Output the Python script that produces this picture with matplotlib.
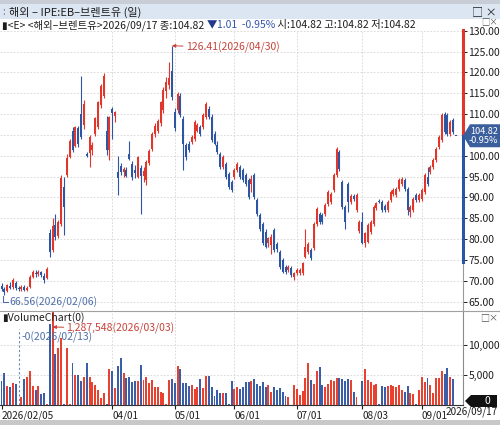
import numpy as np
import pandas as pd
import matplotlib
matplotlib.use("Agg")
import matplotlib.pyplot as plt
from matplotlib.patches import Polygon, Rectangle
from matplotlib.transforms import IdentityTransform

plt.rcParams['font.family'] = ['Noto Sans CJK KR', 'DejaVu Sans']

TITLE = "해외 – IPE:EB–브렌트유 (일)"
dates = pd.bdate_range("2026-02-05", "2026-09-17")

opens = [68.8, 68.0, 67.5, 68.8, 68.4, 69.5, 68.3, 68.0, 68.5, 67.9,
         68.4, 71.0, 72.0, 71.6, 72.1, 71.2, 70.6, 81.5, 77.5, 83.5,
         80.8, 83.6, 92.6, 95.4, 99.8, 106.0, 102.4, 106.6, 110.0, 107.3,
         100.4, 100.6, 101.5, 105.3, 107.0, 112.1, 114.4, 106.0, 101.3, 111.2,
         109.5, 96.0, 97.6, 96.2, 96.6, 100.5, 98.0, 96.6, 95.0, 97.0,
         95.2, 94.2, 98.2, 101.6, 105.2, 106.0, 107.8, 110.9, 115.5, 117.0,
         120.4, 110.5, 110.9, 114.4, 108.9, 102.5, 102.9, 103.3, 104.0, 106.0,
         106.9, 106.9, 109.3, 111.3, 109.3, 105.3, 102.5, 100.5, 97.3, 98.1,
         95.7, 93.7, 94.9, 96.6, 97.3, 96.5, 95.3, 94.1, 93.3, 95.3,
         89.3, 85.7, 83.7, 81.8, 79.0, 78.6, 82.1, 78.8, 77.0, 75.0,
         73.3, 72.6, 73.0, 71.0, 71.8, 71.9, 71.8, 75.8, 76.9, 77.4,
         77.8, 83.7, 86.1, 85.7, 86.1, 88.5, 88.9, 91.7, 95.3, 100.9,
         93.7, 87.7, 93.3, 88.9, 90.4, 86.9, 82.0, 84.1, 79.0, 79.4,
         81.8, 83.7, 87.6, 89.2, 88.9, 88.0, 86.9, 89.3, 90.9, 90.5,
         92.1, 93.3, 94.1, 92.1, 86.5, 86.9, 90.5, 89.3, 89.7, 91.3,
         95.0, 96.1, 97.3, 98.9, 102.1, 103.7, 110.1, 109.7, 105.3, 108.5,
         104.82]
highs = [69.5, 68.6, 69.2, 69.6, 70.6, 69.9, 68.8, 68.9, 68.9, 68.7,
         71.4, 72.5, 72.6, 72.5, 72.4, 71.8, 73.2, 82.5, 85.0, 86.0,
         84.6, 95.5, 95.0, 100.4, 104.0, 106.8, 107.2, 107.2, 119.2, 113.5,
         100.8, 105.0, 103.2, 109.4, 113.2, 117.2, 119.8, 109.5, 109.6, 111.8,
         110.8, 100.0, 98.2, 97.4, 97.2, 103.5, 98.8, 97.8, 99.9, 97.8,
         97.2, 98.9, 101.6, 105.6, 107.8, 108.8, 113.2, 116.5, 118.8, 122.4,
         126.41, 111.5, 115.2, 115.0, 109.5, 103.0, 103.5, 105.0, 108.6, 107.8,
         107.5, 110.2, 112.9, 112.0, 110.0, 106.0, 103.6, 101.0, 100.2, 98.6,
         96.2, 94.2, 97.0, 98.6, 97.8, 97.0, 95.8, 94.6, 95.3, 95.8,
         89.8, 86.2, 84.2, 82.4, 80.6, 81.2, 82.6, 79.3, 77.5, 75.5,
         73.8, 73.8, 73.5, 72.2, 73.0, 73.0, 74.6, 82.5, 79.4, 77.9,
         84.2, 87.8, 86.6, 86.2, 88.6, 91.8, 91.4, 95.8, 102.2, 101.4,
         94.2, 88.2, 93.8, 90.8, 90.9, 91.0, 84.6, 86.5, 81.8, 83.8,
         84.6, 88.2, 89.0, 89.6, 89.4, 88.4, 89.4, 91.8, 92.2, 92.6,
         94.6, 95.0, 94.6, 92.6, 88.2, 90.2, 91.0, 91.0, 92.2, 95.8,
         97.4, 97.8, 99.4, 102.2, 105.0, 110.2, 110.4, 110.2, 108.6, 109.0,
         104.82]
lows = [67.6, 66.56, 67.2, 68.0, 68.1, 67.9, 67.6, 67.5, 67.6, 67.5,
        68.2, 70.6, 71.0, 71.2, 70.9, 69.4, 70.4, 75.8, 77.0, 79.8,
        80.2, 83.2, 81.0, 95.0, 99.4, 100.8, 102.0, 102.2, 104.0, 106.5,
        99.6, 97.3, 100.2, 104.8, 106.5, 111.5, 113.8, 100.2, 99.0, 104.0,
        108.0, 90.5, 95.4, 95.0, 94.8, 99.0, 94.2, 94.6, 94.6, 86.1,
        93.8, 93.0, 97.8, 101.2, 104.6, 105.5, 107.2, 110.2, 113.9, 116.0,
        113.5, 106.0, 110.2, 109.2, 96.5, 99.0, 100.8, 102.8, 103.6, 105.6,
        104.8, 106.5, 108.8, 108.8, 103.2, 102.5, 100.4, 96.8, 96.8, 94.4,
        92.0, 91.2, 94.4, 96.0, 94.4, 93.8, 92.8, 89.6, 91.3, 89.6,
        85.6, 82.0, 78.6, 77.8, 78.2, 76.5, 76.9, 77.0, 72.9, 71.8,
        71.7, 72.1, 70.9, 70.2, 71.3, 71.4, 71.4, 75.4, 76.4, 74.9,
        77.3, 83.2, 83.6, 83.6, 85.6, 88.0, 88.4, 91.2, 94.8, 96.4,
        87.2, 82.5, 86.4, 88.4, 89.2, 86.4, 81.5, 78.8, 78.2, 79.0,
        81.3, 83.2, 87.0, 88.6, 86.4, 86.4, 86.4, 88.8, 90.4, 90.0,
        91.6, 92.8, 91.6, 85.9, 85.4, 86.4, 88.8, 88.8, 89.2, 90.8,
        92.8, 95.6, 96.8, 98.4, 101.6, 103.2, 105.2, 104.8, 104.8, 105.2,
        104.82]
closes = [68.0, 67.4, 68.9, 68.3, 70.2, 68.2, 68.0, 68.6, 67.9, 68.4,
          71.0, 72.1, 71.6, 72.2, 71.3, 70.2, 72.9, 77.0, 83.2, 80.6,
          84.0, 94.6, 87.8, 99.6, 103.6, 101.4, 106.8, 102.8, 104.6, 112.4,
          100.0, 104.4, 102.6, 109.0, 112.8, 116.8, 119.2, 101.3, 109.2, 110.2,
          110.4, 94.6, 96.2, 96.8, 95.2, 99.2, 94.9, 95.8, 99.6, 95.2,
          96.3, 98.5, 101.2, 105.2, 107.2, 108.4, 112.8, 115.8, 117.8, 118.6,
          114.0, 106.6, 114.8, 109.7, 102.9, 99.7, 101.3, 104.5, 108.0, 107.3,
          105.3, 109.7, 112.5, 109.3, 103.7, 102.9, 101.0, 97.3, 99.7, 94.9,
          92.5, 91.7, 96.5, 98.1, 94.9, 94.3, 93.3, 90.1, 94.5, 90.1,
          86.1, 82.5, 79.0, 78.2, 80.2, 80.6, 77.4, 77.6, 73.4, 72.2,
          72.2, 73.3, 71.4, 71.8, 72.6, 72.6, 74.2, 78.2, 78.9, 75.4,
          83.7, 87.3, 84.1, 84.1, 88.1, 91.3, 90.9, 95.3, 101.7, 96.9,
          87.7, 84.1, 88.9, 90.3, 89.7, 90.5, 84.1, 79.0, 81.4, 83.3,
          84.1, 87.7, 88.8, 89.0, 86.9, 86.9, 88.9, 91.3, 91.7, 92.1,
          94.1, 94.5, 92.1, 86.9, 87.7, 89.7, 89.3, 90.5, 91.7, 95.3,
          93.3, 97.3, 98.9, 101.7, 104.5, 109.7, 105.7, 105.3, 108.0, 105.83,
          104.82]
volumes = [4050, 5300, 3150, 3050, 3600, 3500, 0, 1400, 4350, 4600,
           5700, 3200, 2500, 3150, 1780, 2050, 150, 13500, 1287548, 8500,
           9450, 11100, 200, 9450, 150, 7050, 5000, 5000, 4050, 4700,
           6950, 4700, 3900, 3300, 2500, 1200, 2000, 150, 5950, 5700,
           2800, 6500, 7800, 5400, 4450, 4700, 3900, 4050, 4000, 6700,
           4200, 4700, 3600, 4200, 3050, 3050, 2200, 1950, 170, 4200,
           4300, 3700, 6500, 5950, 3600, 3700, 3200, 3350, 2600, 2950,
           4300, 2800, 4850, 4850, 2950, 1500, 2500, 2050, 2050, 2050,
           150, 4050, 2600, 2950, 2600, 3050, 3900, 3900, 4050, 4300,
           3500, 3200, 3900, 3050, 3350, 2200, 2950, 2500, 2800, 2200,
           1500, 1280, 0, 3350, 2600, 1650, 2350, 4550, 6950, 4150,
           3500, 5700, 6400, 3350, 2950, 3500, 4150, 4000, 4450, 4450,
           4300, 4050, 4300, 4150, 2200, 1400, 0, 4000, 5950, 4150,
           3900, 3350, 3450, 150, 3150, 3050, 3150, 3350, 3150, 2950,
           3350, 2500, 2200, 3150, 1950, 1780, 150, 2500, 4700, 3900,
           4450, 3350, 2050, 4450, 4450, 5700, 5150, 6100, 4600, 4300,
           0]

LAST = closes[-1]
CHANGE = "1.01"
PCT = "-0.95%"

RED = '#e2362b'
BLUE = '#2c56a4'
ANN_RED = '#c8423a'
ANN_BLUE = '#4d6fa9'
GRID = '#d3d3d3'
TXT = '#1e1e1e'

W, H = 500, 425
fig = plt.figure(figsize=(W / 100, H / 100), dpi=100)
fig.patch.set_facecolor('white')


def fx(px):
    return px / W


def fy(py):
    return 1 - py / H


ax = fig.add_axes([0, fy(310), fx(463), (310 - 30) / H])
axv = fig.add_axes([0, fy(405), fx(463), (405 - 312) / H])

o = np.array(opens)
hi = np.array(highs)
lo = np.array(lows)
c = np.array(closes)
v = np.array(volumes)
idx = np.arange(len(c))
up = c > o
cols = np.where(up, RED, BLUE)

# month ticks (first trading day of each month, March skipped like the source)
month_pos = [i for i in range(1, len(dates)) if dates[i].month != dates[i - 1].month][1:]
month_lbl = [dates[i].strftime('%m/%d') for i in month_pos]

XMIN, XMAX = -0.53, 162.5

# ---- price panel
ax.set_xlim(XMIN, XMAX)
ax.set_ylim(63.0, 130.2)
for y in range(65, 131, 5):
    ax.axhline(y, color=GRID, lw=0.6, ls=(0, (2, 2)), zorder=0)
for p in month_pos:
    ax.axvline(p, color=GRID, lw=0.6, ls=(0, (2, 2)), zorder=0)
ax.vlines(idx, lo, hi, colors=cols, lw=0.8, zorder=2)
ax.bar(idx, np.maximum(np.abs(c - o), 0.12), bottom=np.minimum(o, c), width=0.7,
       color=cols, lw=0, zorder=3)

for s in ax.spines.values():
    s.set_visible(False)
ax.set_xticks([])
ax.yaxis.tick_right()
pticks = np.arange(65, 131, 5)
ax.set_yticks(pticks)
# the label hidden under the current-price box is not shown
ax.set_yticklabels(['' if abs(t - LAST) < 3 else '%.2f' % t for t in pticks])
ax.tick_params(axis='y', direction='out', length=3, pad=1, labelsize=7.5,
               colors=TXT, width=0.7)

# right edge colored bar
ytr = ax.get_yaxis_transform()
ax.plot([1, 1], [63.0, 130.2], transform=ytr, color='#9a9a9a', lw=0.8, clip_on=False)
ax.plot([1, 1], [LAST, 130.2], transform=ytr, color=RED, lw=2.2, clip_on=False)
ax.plot([1, 1], [74.5, LAST], transform=ytr, color=BLUE, lw=2.2, clip_on=False)

# high / low annotations
ip = int(np.argmax(hi))
ax.annotate('%.2f(%s)' % (hi[ip], dates[ip].strftime('%Y/%m/%d')),
            xy=(ip, hi[ip]), xytext=(10, -1), textcoords='offset points',
            ha='left', va='center', fontsize=7.5, color=ANN_RED,
            arrowprops=dict(arrowstyle='-|>', color=ANN_RED, lw=0.7,
                            mutation_scale=5, shrinkA=0, shrinkB=0))
il = int(np.argmin(lo))
ax.plot([il - 0.3, il - 0.3, il + 1.3], [lo[il] - 0.2, lo[il] - 1.7, lo[il] - 1.7],
        color=ANN_BLUE, lw=0.8, clip_on=False)
ax.text(il + 1.6, lo[il] - 1.7, '%.2f(%s)' % (lo[il], dates[il].strftime('%Y/%m/%d')),
        ha='left', va='center', fontsize=7.5, color=ANN_BLUE)

# ---- volume panel
axv.set_xlim(XMIN, XMAX)
axv.set_ylim(0, 15500)
for y in (5000, 10000):
    axv.axhline(y, color=GRID, lw=0.6, ls=(0, (2, 2)), zorder=0)
for p in month_pos:
    axv.axvline(p, color=GRID, lw=0.6, ls=(0, (2, 2)), zorder=0)
vcols = np.where(up, '#e8412f', '#3a5fa8')
axv.bar(idx, v, width=0.7, color=vcols, lw=0, zorder=3)

axv.spines['top'].set_visible(False)
axv.spines['left'].set_visible(False)
axv.spines['right'].set_color('#8a8a8a')
axv.spines['bottom'].set_color('#333333')
axv.spines['bottom'].set_linewidth(0.8)
axv.yaxis.tick_right()
axv.set_yticks([5000, 10000])
axv.set_yticklabels(['5,000', '10,000'])
axv.tick_params(axis='y', direction='out', length=3, pad=1, labelsize=7.5,
                colors=TXT, width=0.7)
axv.set_xticks([0] + month_pos)
axv.set_xticklabels([dates[0].strftime('%Y/%m/%d')] + month_lbl, ha='left')
axv.tick_params(axis='x', direction='out', length=3, pad=1, labelsize=7.2,
                colors=TXT, width=0.8)

iv = int(np.argmax(v))
axv.annotate('{:,}({})'.format(v[iv], dates[iv].strftime('%Y/%m/%d')),
             xy=(iv, 13000), xytext=(10, -1), textcoords='offset points',
             ha='left', va='center', fontsize=7.5, color=ANN_RED,
             arrowprops=dict(arrowstyle='-|>', color=ANN_RED, lw=0.7,
                             mutation_scale=5, shrinkA=0, shrinkB=0))
imin = int(np.argmin(v))
axv.vlines(imin, 0, 12600, colors='#6b86b8', lw=0.8, linestyles=(0, (2, 2)), zorder=4)
axv.text(imin + 1.2, 11300, '-{}({})'.format(v[imin], dates[imin].strftime('%Y/%m/%d')),
         ha='left', va='center', fontsize=7.5, color=ANN_BLUE, zorder=5)

# ---- window chrome
fig.add_artist(Rectangle((0, fy(4)), 1, fy(0) - fy(4), transform=fig.transFigure,
                         color='#c9ced6', lw=0))
fig.add_artist(Rectangle((0, fy(19)), 1, fy(4) - fy(19), transform=fig.transFigure,
                         color='#dce6f2', lw=0))
fig.add_artist(Rectangle((0, fy(425)), 1, fy(420) - fy(425), transform=fig.transFigure,
                         color='#c8c8c8', lw=0))
fig.add_artist(plt.Line2D([0, 1], [fy(310.5), fy(310.5)], transform=fig.transFigure,
                          color='#a0a0a0', lw=0.8))
fig.text(fx(2), fy(12), ':', fontsize=7, color='#777777', va='center')
fig.text(fx(9), fy(12), TITLE, fontsize=8, color=TXT, va='center')
fig.text(fx(497), fy(12), '□ ×', fontsize=8, color=TXT, va='center', ha='right')
fig.text(fx(498), fy(22), '□×', fontsize=6, color='#555555', va='center', ha='right')
fig.text(fx(498), fy(318), '□×', fontsize=6.5, color='#555555', va='center', ha='right')
fig.text(fx(2), fy(318), '▮VolumeChart(0)', fontsize=7.5, color=TXT, va='center')
fig.text(fx(498), fy(412), dates[-1].strftime('%Y/%m/%d'), fontsize=7.2, color=TXT,
         va='center', ha='right')

# info line in colored pieces
info = [('▮<E> <해외–브렌트유>%s 종:%.2f ' % (dates[-1].strftime('%Y/%m/%d'), LAST), TXT),
        ('▼', '#1f3a8a'),
        ('%s  %s' % (CHANGE, PCT), '#3355aa'),
        (' 시:%.2f 고:%.2f 저:%.2f' % (opens[-1], highs[-1], lows[-1]), TXT)]
rend = fig.canvas.get_renderer()
xpos = fx(2)
for txt, col in info:
    t = fig.text(xpos, fy(25), txt, fontsize=7.5, color=col, va='center', ha='left')
    xpos = t.get_window_extent(renderer=rend).x1 / W

# current price box
yc = ax.transData.transform((0, LAST))[1]
fig.add_artist(Polygon([(463, yc), (470, yc + 11.5), (500, yc + 11.5), (500, yc - 11.5),
                        (470, yc - 11.5)], closed=True, transform=IdentityTransform(),
                       color='#3b5e9c', lw=0))
fig.text(fx(498), yc / H, '%.2f\n%s' % (LAST, PCT), fontsize=6.6, color='white',
         ha='right', va='center', ma='right', linespacing=0.95)

# zero volume marker
y0 = axv.transData.transform((0, 0))[1] + 4
fig.add_artist(Polygon([(465, y0), (471, y0 + 6), (497, y0 + 6), (497, y0 - 6),
                        (471, y0 - 6)], closed=True, transform=IdentityTransform(),
                       color='#111111', lw=0))
fig.text(fx(490), y0 / H, '0', fontsize=7.5, color='white', ha='right', va='center')

fig.savefig('out.png', dpi=100)
